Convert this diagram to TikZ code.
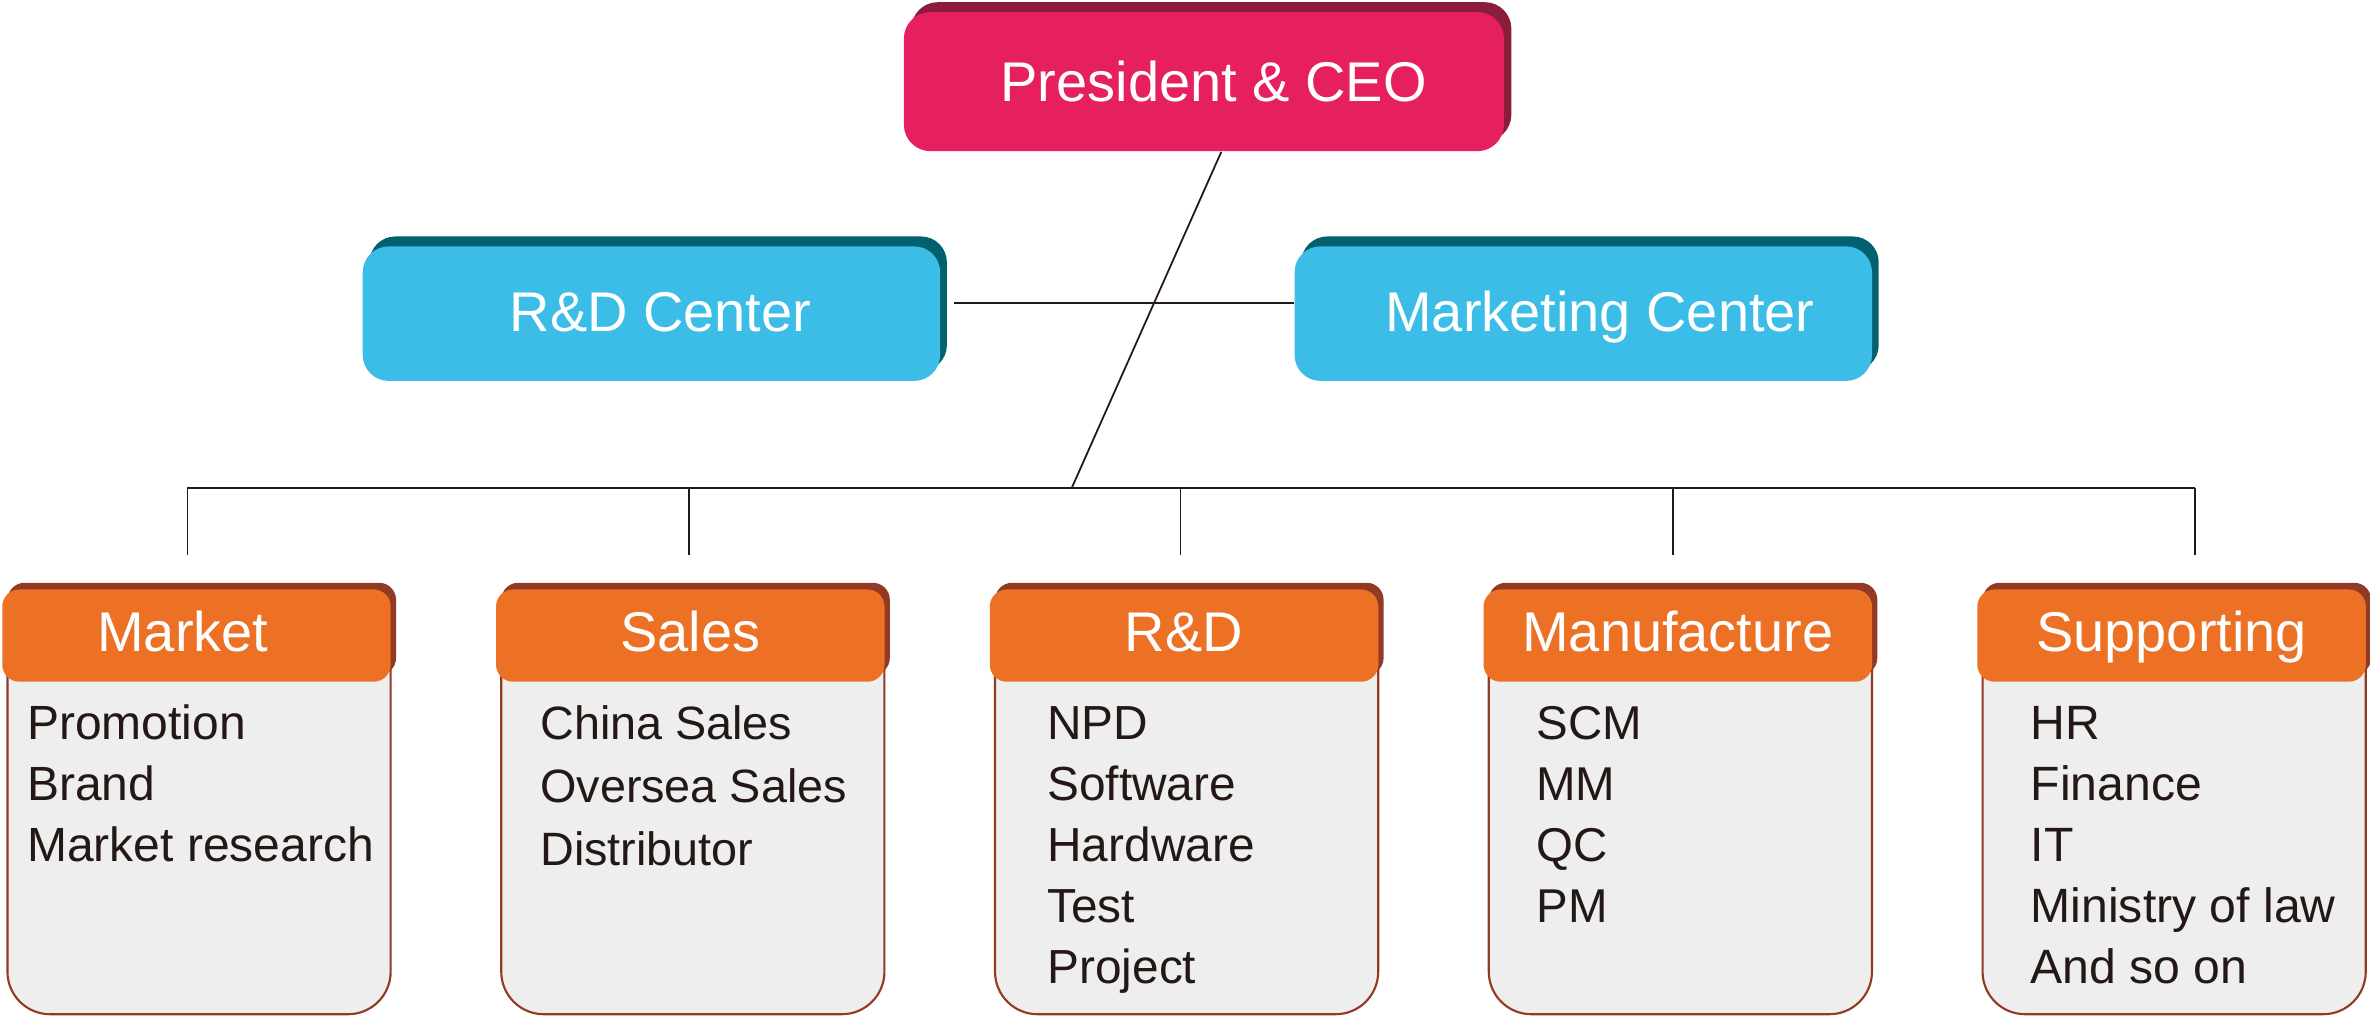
\documentclass[tikz,border=0pt]{standalone}
\usepackage{fontspec}
\setmainfont{Liberation Sans}
\usetikzlibrary{positioning,shadows,calc,backgrounds}

\definecolor{ceo}{HTML}{E61F5F}
\definecolor{ceodark}{HTML}{8B1D3C}
\definecolor{center}{HTML}{3BBDE8}
\definecolor{centerdark}{HTML}{03606E}
\definecolor{dept}{HTML}{EC7125}
\definecolor{deptdark}{HTML}{923A23}
\definecolor{deptbg}{HTML}{EEEEEE}
\definecolor{ink}{HTML}{231815}

\begin{document}
\begin{tikzpicture}[x=0.015cm,y=-0.015cm,node distance=4.9cm,
		link/.style={draw=ink,line width=0.5pt},
		boss/.style={fill=ceo,rounded corners=7.5pt,minimum width=5.955cm,minimum height=1.38cm,
			text=white,font=\fontsize{15.8}{19}\selectfont,text height=11.3pt,text depth=0pt,
			drop shadow={shadow xshift=2.1pt,shadow yshift=2.8pt,fill=ceodark,opacity=1}},
		hub/.style={fill=center,rounded corners=7.3pt,minimum width=5.73cm,minimum height=1.335cm,
			text=white,font=\fontsize{15.8}{19}\selectfont,text height=11.3pt,text depth=1pt,
			drop shadow={shadow xshift=1.9pt,shadow yshift=2.8pt,fill=centerdark,opacity=1}},
		depthead/.style={fill=dept,rounded corners=4.8pt,minimum width=3.855cm,minimum height=0.915cm,
			text=white,font=\fontsize{15.8}{19}\selectfont,text height=11.3pt,text depth=2.5pt,
			drop shadow={shadow xshift=1.5pt,shadow yshift=1.9pt,fill=deptdark,opacity=1}},
		deptbody/.style={fill=deptbg,draw=deptdark,line width=0.6pt,rounded corners=12pt,
			minimum width=3.8025cm,minimum height=4.065cm},
		item/.style={anchor=base west,inner sep=0pt,text=ink}]
	\useasboundingbox (0,0) rectangle (1568,672);

	% top level
	\node[boss] (ceo) at (796.5,54) {\hspace*{5.5pt}President \& CEO};
	\node[hub] (rdc) at (431,207.5) {\hspace*{5.1pt}R\&D Center};
	\node[hub] (mkc) at (1047.5,207.5) {\hspace*{9.4pt}Marketing Center};

	% departments
	\node[depthead] (market) at (130,420.5) {Market\hspace*{7.7pt}};
	\node[depthead] (sales) [right of=market] {Sales};
	\node[depthead] (rd)    [right of=sales]  {R\&D};
	\node[depthead] (manu)  [right of=rd]     {Manufacture};
	\node[depthead] (supp)  [right of=manu]   {Supporting};

	\begin{scope}[on background layer]
		\foreach \d in {market,sales,rd,manu,supp}
			\node[deptbody] (\d-body) at ($(\d)+(1.7,115)$) {};
	\end{scope}

	\foreach \d/\x/\gap/\fs/\list in {
			market/17.5/40.4/13.55/{Promotion,Brand,Market research},
			sales/357/41.8/13.2/{China Sales,Oversea Sales,Distributor},
			rd/692.5/40.4/13.5/{NPD,Software,Hardware,Test,Project},
			manu/1016/40.4/13.4/{SCM,MM,QC,PM},
			supp/1343/40.4/13.6/{HR,Finance,IT,Ministry of law,And so on}}
		\foreach \t [count=\i from 0] in \list
			\node[item,font=\fontsize{\fs}{16}\selectfont] (\d-\i) at (\x,489+\gap*\i) {\t};

	% connectors
	\foreach \d/\x in {market/124,sales/456,rd/781,manu/1107,supp/1452}{
		\coordinate (\d-top) at (\x,323);
		\coordinate (\d-in) at (\x,367);
		\draw[link] (\d-top) -- (\d-in);
	}
	\coordinate (bus) at (709,323);
	\draw[link] (market-top) -- (supp-top);
	\draw[link] ($(ceo.south)+(11.5,0)$) -- (bus);
	\draw[link] ($(rdc.east)+(8.6,-7)$) -- ($(mkc.west)+(0,-7)$);
\end{tikzpicture}
\end{document}
